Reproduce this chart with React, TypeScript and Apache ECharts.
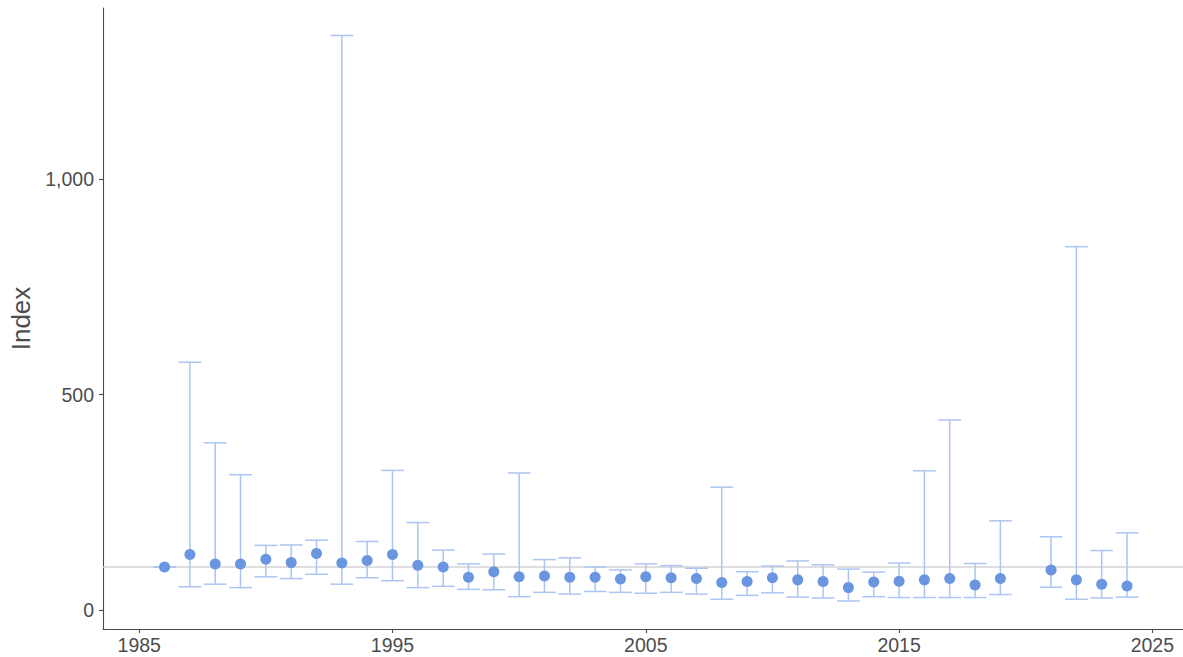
import React, { useEffect, useRef } from "react";
import * as echarts from "echarts";

const years = [
  1986, 1987, 1988, 1989, 1990, 1991, 1992, 1993, 1994, 1995, 1996, 1997, 1998,
  1999, 2000, 2001, 2002, 2003, 2004, 2005, 2006, 2007, 2008, 2009, 2010, 2011,
  2012, 2013, 2014, 2015, 2016, 2017, 2018, 2019, 2021, 2022, 2023, 2024,
];
const indexValues = [
  100, 129, 107, 107, 118, 110, 131, 109, 115, 129, 104, 100, 76, 89, 77, 79,
  76, 76, 72, 77, 75, 73, 64, 66, 75, 70, 66, 52, 65, 67, 70, 73, 58, 73, 93,
  70, 60, 56,
];
const lowerValues = [
  100, 54, 60, 52, 77, 73, 83, 60, 75, 68, 52, 55, 48, 47, 31, 41, 37, 43, 41,
  39, 41, 37, 25, 34, 40, 30, 28, 21, 31, 29, 29, 29, 29, 36, 53, 25, 28, 30,
];
const upperValues = [
  100, 575, 388, 314, 150, 151, 162, 1333, 159, 324, 203, 139, 107, 130, 318,
  117, 121, 100, 93, 107, 103, 97, 285, 89, 102, 114, 105, 95, 88, 109, 323,
  441, 108, 207, 170, 843, 138, 179,
];
const xTicks = [1985, 1995, 2005, 2015, 2025];
const yTicks = [0, 500, 1000];
const referenceValue = 100;

const pointColor = "#6a95e0";
const barColor = "#adc5f2";
const axisColor = "#4a4a4a";
const textColor = "#4d4d4d";
const fontFamily = "'Liberation Sans', Arial, Helvetica, sans-serif";

export default function App() {
  const ref = useRef<HTMLDivElement>(null);

  useEffect(() => {
    document.body.style.margin = "0";
    if (!ref.current) return;
    const chart = echarts.init(ref.current, undefined, { renderer: "svg" });

    const barData = years.map((y, i) => [y, lowerValues[i], upperValues[i]]);
    const pointData = years.map((y, i) => [y, indexValues[i]]);

    chart.setOption({
      animation: false,
      backgroundColor: "#ffffff",
      textStyle: { fontFamily },
      grid: { left: 103, right: 0, top: 8, bottom: 28, containLabel: false },
      xAxis: {
        type: "value",
        min: 1983.57,
        max: 2026.21,
        splitLine: { show: false },
        axisLine: { show: true, onZero: false, lineStyle: { color: axisColor, width: 1.1 } },
        axisTick: {
          show: true,
          length: 4,
          customValues: xTicks,
          lineStyle: { color: axisColor, width: 1.1 },
        },
        axisLabel: {
          customValues: xTicks,
          color: textColor,
          fontSize: 19.5,
          fontFamily,
          margin: 6,
          formatter: (v: number) => String(v),
        },
      },
      yAxis: {
        type: "value",
        min: -44,
        max: 1396.8,
        name: "Index",
        nameLocation: "middle",
        nameGap: 64,
        nameRotate: 90,
        nameTextStyle: { color: textColor, fontSize: 26, fontFamily },
        splitLine: { show: false },
        axisLine: { show: true, onZero: false, lineStyle: { color: axisColor, width: 1.1 } },
        axisTick: {
          show: true,
          length: 4,
          customValues: yTicks,
          lineStyle: { color: axisColor, width: 1.1 },
        },
        axisLabel: {
          customValues: yTicks,
          color: textColor,
          fontSize: 19.5,
          fontFamily,
          margin: 9,
          formatter: (v: number) => v.toLocaleString("en-US"),
        },
      },
      series: [
        {
          type: "custom",
          z: 2,
          silent: true,
          data: barData,
          encode: { x: 0, y: [1, 2] },
          renderItem: (params: any, api: any) => {
            const x = api.value(0);
            const lo = api.value(1);
            const hi = api.value(2);
            const pLo = api.coord([x, lo]);
            const pHi = api.coord([x, hi]);
            const half = api.size([0.9, 0])[0] / 2;
            const style = { stroke: barColor, lineWidth: 1.5, fill: "none" };
            return {
              type: "group",
              children: [
                { type: "line", shape: { x1: pLo[0], y1: pLo[1], x2: pHi[0], y2: pHi[1] }, style },
                { type: "line", shape: { x1: pLo[0] - half, y1: pLo[1], x2: pLo[0] + half, y2: pLo[1] }, style },
                { type: "line", shape: { x1: pHi[0] - half, y1: pHi[1], x2: pHi[0] + half, y2: pHi[1] }, style },
              ],
            };
          },
        },
        {
          type: "scatter",
          z: 3,
          data: pointData,
          symbol: "circle",
          symbolSize: 11,
          itemStyle: { color: pointColor, opacity: 1 },
          markLine: {
            silent: true,
            symbol: "none",
            z: 1,
            label: { show: false },
            lineStyle: { color: "#d3d3d3", width: 1.5, type: "solid" },
            data: [{ yAxis: referenceValue }],
          },
        },
      ],
    });

    return () => chart.dispose();
  }, []);

  return <div ref={ref} style={{ width: 1183, height: 657 }} />;
}
